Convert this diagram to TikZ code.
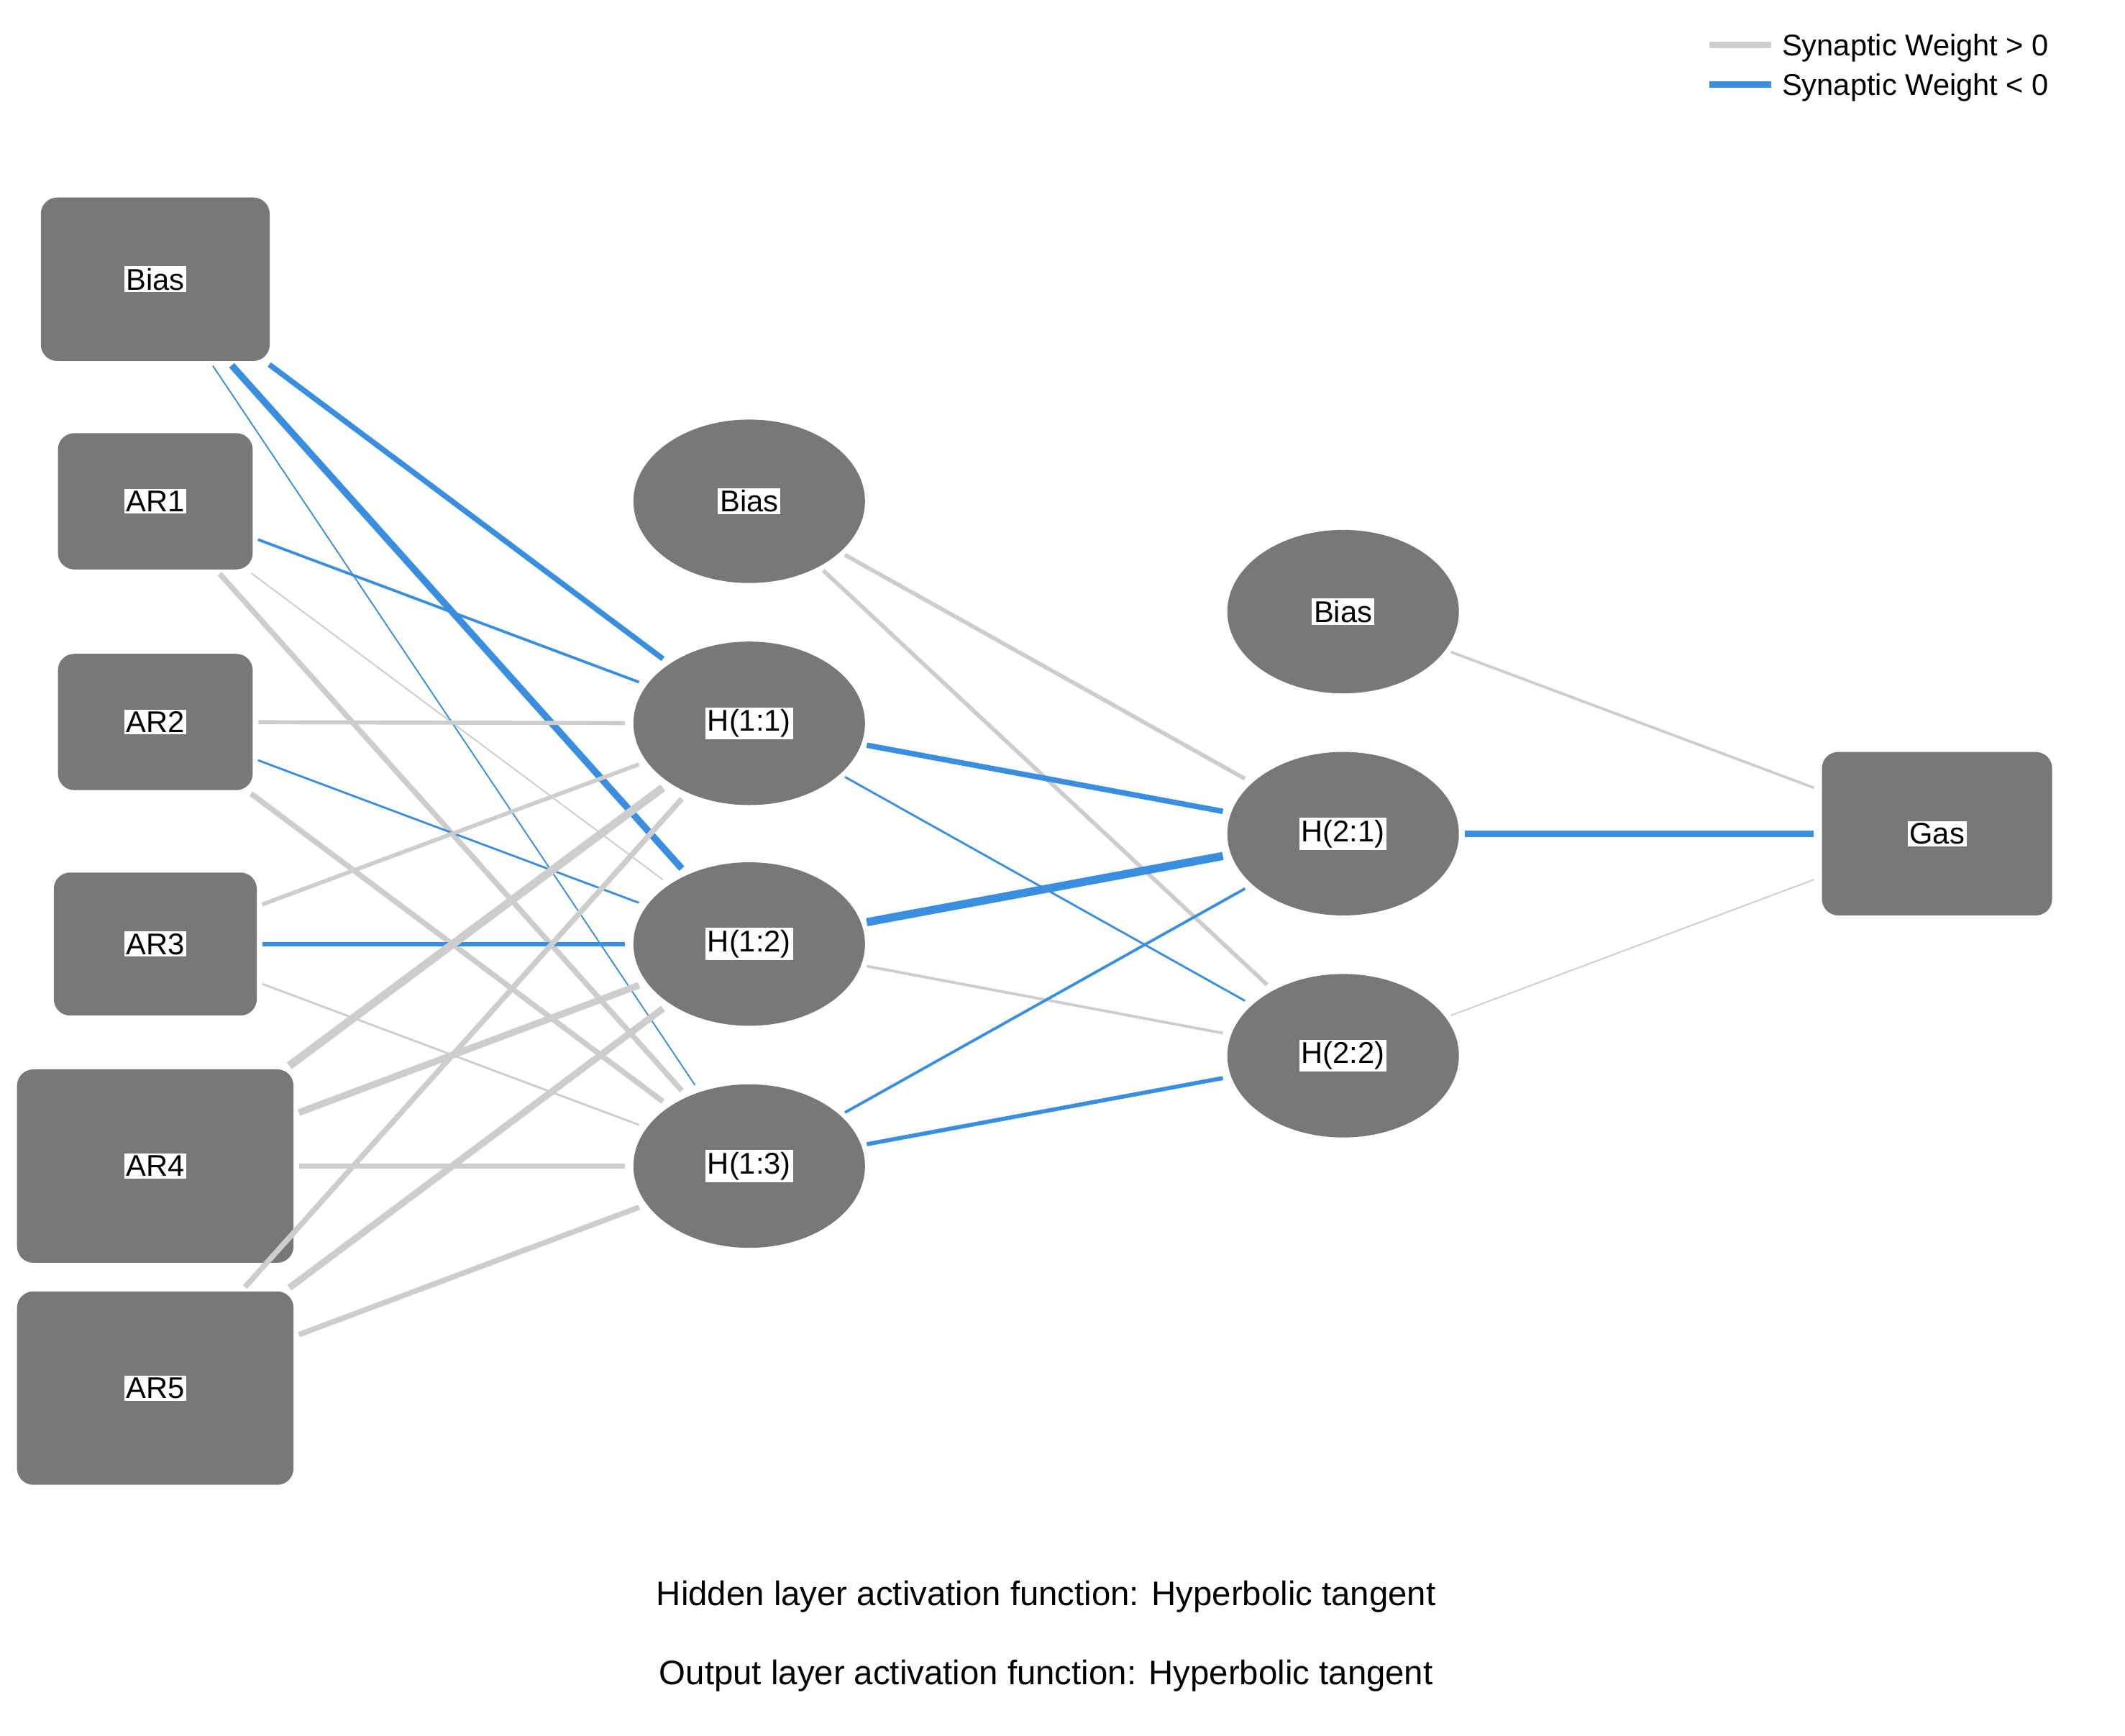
\documentclass[tikz,border=0pt]{standalone}
\usepackage{fontspec}
\setmainfont{Liberation Sans}
\usetikzlibrary{shapes.geometric}
\definecolor{nodegray}{RGB}{120,120,120}
\definecolor{posw}{RGB}{205,205,205}
\definecolor{negw}{RGB}{58,142,224}
\begin{document}
\begin{tikzpicture}[x=1pt,y=-1pt,
  lab/.style={fill=white,inner sep=1.5pt,font=\fontsize{22}{24}\selectfont},
  box/.style={draw=none,fill=nodegray,rounded corners=12pt,inner sep=0pt},
  neu/.style={ellipse,fill=nodegray,minimum width=170pt,minimum height=120pt,inner sep=0pt},
  pos/.style={draw=posw,line width=#1,shorten >=6pt,shorten <=4pt},
  neg/.style={draw=negw,line width=#1,shorten >=6pt,shorten <=4pt}]
\useasboundingbox (0,0) rectangle (1560,1274);
\node[box,minimum width=168pt,minimum height=120pt] (ib) at (114,205) {};
\node[box,minimum width=143pt,minimum height=100pt] (a1) at (114,368) {};
\node[box,minimum width=143pt,minimum height=100pt] (a2) at (114,530) {};
\node[box,minimum width=149pt,minimum height=105pt] (a3) at (114,693) {};
\node[box,minimum width=203pt,minimum height=142pt] (a4) at (114,856) {};
\node[box,minimum width=203pt,minimum height=142pt] (a5) at (114,1019) {};
\node[neu] (hb) at (550,368) {};
\node[neu] (h11) at (550,531) {};
\node[neu] (h12) at (550,693) {};
\node[neu] (h13) at (550,856) {};
\node[neu] (ob) at (986,449) {};
\node[neu] (h21) at (986,612) {};
\node[neu] (h22) at (986,775) {};
\node[box,minimum width=169pt,minimum height=120pt] (gas) at (1422,612) {};
\begin{scope}[on background layer/.style={}]
\draw[neg=4pt] (ib) -- (h11);
\draw[neg=5pt] (ib) -- (h12);
\draw[neg=1pt] (ib) -- (h13);
\draw[neg=2pt] (a1) -- (h11);
\draw[pos=1pt] (a1) -- (h12);
\draw[pos=4pt] (a1) -- (h13);
\draw[pos=3pt] (a2) -- (h11);
\draw[neg=1.5pt] (a2) -- (h12);
\draw[pos=4pt] (a2) -- (h13);
\draw[pos=3pt] (a3) -- (h11);
\draw[neg=3pt] (a3) -- (h12);
\draw[pos=1.5pt] (a3) -- (h13);
\draw[pos=6pt] (a4) -- (h11);
\draw[pos=5pt] (a4) -- (h12);
\draw[pos=4pt] (a4) -- (h13);
\draw[pos=4pt] (a5) -- (h11);
\draw[pos=5pt] (a5) -- (h12);
\draw[pos=4pt] (a5) -- (h13);
\draw[pos=3pt] (hb) -- (h21);
\draw[pos=3pt] (hb) -- (h22);
\draw[neg=4pt] (h11) -- (h21);
\draw[neg=1.5pt] (h11) -- (h22);
\draw[neg=6pt] (h12) -- (h21);
\draw[pos=2pt] (h12) -- (h22);
\draw[neg=2pt] (h13) -- (h21);
\draw[neg=3pt] (h13) -- (h22);
\draw[pos=2pt] (ob) -- (gas);
\draw[neg=5pt] (h21) -- (gas);
\draw[pos=1pt] (h22) -- (gas);
\end{scope}
\node[lab] at (ib) {Bias};
\node[lab] at (a1) {AR1};
\node[lab] at (a2) {AR2};
\node[lab] at (a3) {AR3};
\node[lab] at (a4) {AR4};
\node[lab] at (a5) {AR5};
\node[lab] at (hb) {Bias};
\node[lab] at (h11) {H(1:1)};
\node[lab] at (h12) {H(1:2)};
\node[lab] at (h13) {H(1:3)};
\node[lab] at (ob) {Bias};
\node[lab] at (h21) {H(2:1)};
\node[lab] at (h22) {H(2:2)};
\node[lab] at (gas) {Gas};
\coordinate (lg1a) at (1255,33); \coordinate (lg1b) at (1300,33);
\coordinate (lg2a) at (1255,62); \coordinate (lg2b) at (1300,62);
\draw[posw,line width=5pt] (lg1a) -- (lg1b);
\draw[negw,line width=5pt] (lg2a) -- (lg2b);
\node[anchor=west,font=\fontsize{22}{24}\selectfont,inner sep=0pt] (l1) at (1308,35) {Synaptic Weight > 0};
\node[anchor=west,font=\fontsize{22}{24}\selectfont,inner sep=0pt] (l2) at (1308,64) {Synaptic Weight < 0};
\node[font=\fontsize{25}{28}\selectfont] (f1) at (768,1172) {Hidden layer activation function: Hyperbolic tangent};
\node[font=\fontsize{25}{28}\selectfont] (f2) at (768,1230) {Output layer activation function: Hyperbolic tangent};
\end{tikzpicture}
\end{document}
